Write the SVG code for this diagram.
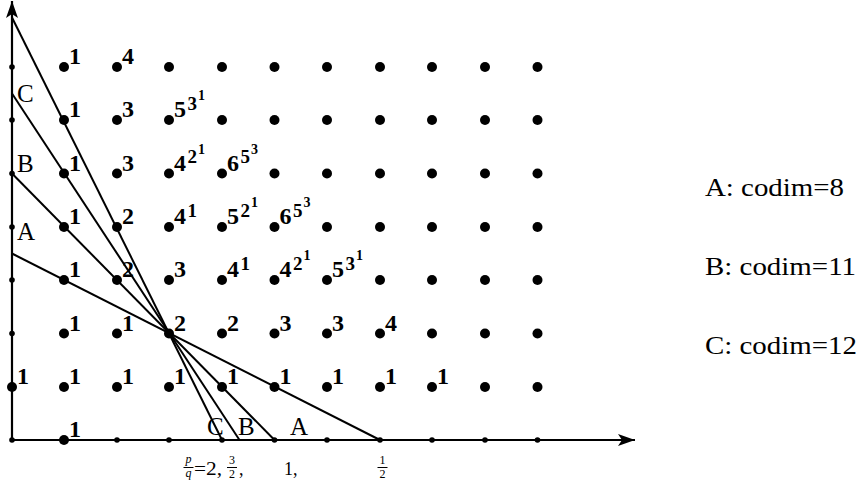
<svg xmlns="http://www.w3.org/2000/svg" width="866" height="485" viewBox="0 0 866 485">
<style>
.ax{stroke:#000;stroke-width:2.2;fill:none}
.ln{stroke:#000;stroke-width:2;fill:none}
.bd{fill:#000}
.n{font-family:'Liberation Serif',serif;font-weight:bold;font-size:24px;fill:#000}
.e1{font-size:19px}
.e2{font-size:14px}
.lt{font-family:'Liberation Serif',serif;font-size:25px;fill:#000}
.rt{font-family:'Liberation Serif',serif;font-size:26px;fill:#000}
.sm{font-family:'Liberation Serif',serif;font-size:18px;fill:#000}
.fr{font-family:'Liberation Serif',serif;font-size:12px;fill:#000;text-anchor:middle}
.fi{font-style:italic}
.bar{stroke:#000;stroke-width:1}
</style>
<defs>
<marker id="arr" markerUnits="userSpaceOnUse" markerWidth="18" markerHeight="14" refX="17" refY="7" orient="auto">
<path d="M0,1 L17,7 L0,13 L4,7 z" fill="#000"/>
</marker>
</defs>
<rect width="866" height="485" fill="#fff"/>
<g id="axes">
<line class="ax" x1="12" y1="440" x2="635" y2="440" marker-end="url(#arr)"/>
<line class="ax" x1="12" y1="440" x2="12" y2="1" marker-end="url(#arr)"/>
</g>
<g id="connectors">
<line class="ln" x1="12" y1="17.5" x2="222" y2="440"/>
<line class="ln" x1="12" y1="93.5" x2="239.5" y2="440"/>
<line class="ln" x1="12" y1="173.5" x2="274.5" y2="440"/>
<line class="ln" x1="12" y1="253.5" x2="380" y2="440"/>
</g>
<g id="small-dots" class="bd">
<circle cx="12" cy="440" r="2.8"/>
<circle cx="12" cy="333.5" r="2.8"/><circle cx="12" cy="280" r="2.8"/><circle cx="12" cy="227" r="2.8"/>
<circle cx="12" cy="173.5" r="2.8"/><circle cx="12" cy="120" r="2.8"/><circle cx="12" cy="67" r="2.8"/>
<circle cx="117" cy="440" r="2.8"/><circle cx="169" cy="440" r="2.8"/><circle cx="222" cy="440" r="2.8"/>
<circle cx="274.5" cy="440" r="2.8"/><circle cx="327" cy="440" r="2.8"/><circle cx="380" cy="440" r="2.8"/>
<circle cx="432" cy="440" r="2.8"/><circle cx="485" cy="440" r="2.8"/><circle cx="537.5" cy="440" r="2.8"/>
</g>
<g id="points" class="bd">
<circle cx="12" cy="387" r="5"/><circle cx="64" cy="440" r="5"/>
<g id="row1"><circle cx="64" cy="387" r="5"/><circle cx="117" cy="387" r="5"/><circle cx="169" cy="387" r="5"/><circle cx="222" cy="387" r="5"/><circle cx="274.5" cy="387" r="5"/><circle cx="327" cy="387" r="5"/><circle cx="380" cy="387" r="5"/><circle cx="432" cy="387" r="5"/><circle cx="485" cy="387" r="5"/><circle cx="537.5" cy="387" r="5"/></g>
<g id="row2"><circle cx="64" cy="333.5" r="5"/><circle cx="117" cy="333.5" r="5"/><circle cx="169" cy="333.5" r="5"/><circle cx="222" cy="333.5" r="5"/><circle cx="274.5" cy="333.5" r="5"/><circle cx="327" cy="333.5" r="5"/><circle cx="380" cy="333.5" r="5"/><circle cx="432" cy="333.5" r="5"/><circle cx="485" cy="333.5" r="5"/><circle cx="537.5" cy="333.5" r="5"/></g>
<g id="row3"><circle cx="64" cy="280" r="5"/><circle cx="117" cy="280" r="5"/><circle cx="169" cy="280" r="5"/><circle cx="222" cy="280" r="5"/><circle cx="274.5" cy="280" r="5"/><circle cx="327" cy="280" r="5"/><circle cx="380" cy="280" r="5"/><circle cx="432" cy="280" r="5"/><circle cx="485" cy="280" r="5"/><circle cx="537.5" cy="280" r="5"/></g>
<g id="row4"><circle cx="64" cy="227" r="5"/><circle cx="117" cy="227" r="5"/><circle cx="169" cy="227" r="5"/><circle cx="222" cy="227" r="5"/><circle cx="274.5" cy="227" r="5"/><circle cx="327" cy="227" r="5"/><circle cx="380" cy="227" r="5"/><circle cx="432" cy="227" r="5"/><circle cx="485" cy="227" r="5"/><circle cx="537.5" cy="227" r="5"/></g>
<g id="row5"><circle cx="64" cy="173.5" r="5"/><circle cx="117" cy="173.5" r="5"/><circle cx="169" cy="173.5" r="5"/><circle cx="222" cy="173.5" r="5"/><circle cx="274.5" cy="173.5" r="5"/><circle cx="327" cy="173.5" r="5"/><circle cx="380" cy="173.5" r="5"/><circle cx="432" cy="173.5" r="5"/><circle cx="485" cy="173.5" r="5"/><circle cx="537.5" cy="173.5" r="5"/></g>
<g id="row6"><circle cx="64" cy="120" r="5"/><circle cx="117" cy="120" r="5"/><circle cx="169" cy="120" r="5"/><circle cx="222" cy="120" r="5"/><circle cx="274.5" cy="120" r="5"/><circle cx="327" cy="120" r="5"/><circle cx="380" cy="120" r="5"/><circle cx="432" cy="120" r="5"/><circle cx="485" cy="120" r="5"/><circle cx="537.5" cy="120" r="5"/></g>
<g id="row7"><circle cx="64" cy="67" r="5"/><circle cx="117" cy="67" r="5"/><circle cx="169" cy="67" r="5"/><circle cx="222" cy="67" r="5"/><circle cx="274.5" cy="67" r="5"/><circle cx="327" cy="67" r="5"/><circle cx="380" cy="67" r="5"/><circle cx="432" cy="67" r="5"/><circle cx="485" cy="67" r="5"/><circle cx="537.5" cy="67" r="5"/></g>
</g>
<g id="labels" class="n" font-family="Liberation Serif, serif">
<text x="69" y="437">1</text>
<text x="17" y="384">1</text><text x="69" y="384">1</text><text x="122" y="384">1</text><text x="174" y="384">1</text><text x="227" y="384">1</text><text x="279.5" y="384">1</text><text x="332" y="384">1</text><text x="385" y="384">1</text><text x="437" y="384">1</text>
<text x="69" y="330.5">1</text><text x="122" y="330.5">1</text><text x="174" y="330.5">2</text><text x="227" y="330.5">2</text><text x="279.5" y="330.5">3</text><text x="332" y="330.5">3</text><text x="385" y="330.5">4</text>
<text x="69" y="277">1</text><text x="122" y="277">2</text><text x="174" y="277">3</text>
<text x="227" y="277">4<tspan class="e1" x="240.5" y="269.5">1</tspan></text>
<text x="279.5" y="277">4<tspan class="e1" x="293" y="269.5">2</tspan><tspan class="e2" x="303.5" y="260">1</tspan></text>
<text x="332" y="277">5<tspan class="e1" x="345.5" y="269.5">3</tspan><tspan class="e2" x="356" y="260">1</tspan></text>
<text x="69" y="224">1</text><text x="122" y="224">2</text>
<text x="174" y="224">4<tspan class="e1" x="187.5" y="216.5">1</tspan></text>
<text x="227" y="224">5<tspan class="e1" x="240.5" y="216.5">2</tspan><tspan class="e2" x="251" y="207">1</tspan></text>
<text x="279.5" y="224">6<tspan class="e1" x="293" y="216.5">5</tspan><tspan class="e2" x="303.5" y="207">3</tspan></text>
<text x="69" y="170.5">1</text><text x="122" y="170.5">3</text>
<text x="174" y="170.5">4<tspan class="e1" x="187.5" y="163">2</tspan><tspan class="e2" x="198" y="153.5">1</tspan></text>
<text x="227" y="170.5">6<tspan class="e1" x="240.5" y="163">5</tspan><tspan class="e2" x="251" y="153.5">3</tspan></text>
<text x="69" y="117">1</text><text x="122" y="117">3</text>
<text x="174" y="117">5<tspan class="e1" x="187.5" y="109.5">3</tspan><tspan class="e2" x="198" y="100">1</tspan></text>
<text x="69" y="64">1</text><text x="122" y="64">4</text>
</g>
<g id="line-labels" class="lt" font-family="Liberation Serif, serif">
<text x="17" y="102">C</text>
<text x="17" y="172">B</text>
<text x="17" y="240">A</text>
<text x="207" y="435">C</text>
<text x="238" y="435">B</text>
<text x="290" y="435">A</text>
</g>
<g id="slopes" font-family="Liberation Serif, serif">
<text class="fr fi" x="188.5" y="463">p</text>
<line class="bar" x1="183.5" y1="467.5" x2="193.5" y2="467.5"/>
<text class="fr fi" x="188.5" y="477">q</text>
<text class="sm" x="194" y="475" textLength="28" lengthAdjust="spacingAndGlyphs">=2,</text>
<text class="fr" x="232" y="464">3</text>
<line class="bar" x1="227" y1="467.5" x2="237" y2="467.5"/>
<text class="fr" x="232" y="478">2</text>
<text class="sm" x="239" y="475">,</text>
<text class="sm" x="284" y="475">1,</text>
<text class="fr" x="382.5" y="464">1</text>
<line class="bar" x1="377.5" y1="467.5" x2="387.5" y2="467.5"/>
<text class="fr" x="382.5" y="478">2</text>
</g>
<g id="legend" class="rt" font-family="Liberation Serif, serif">
<text x="705" y="196" textLength="139" lengthAdjust="spacingAndGlyphs">A: codim=8</text>
<text x="705" y="275" textLength="151" lengthAdjust="spacingAndGlyphs">B: codim=11</text>
<text x="705" y="354" textLength="152" lengthAdjust="spacingAndGlyphs">C: codim=12</text>
</g>
</svg>
